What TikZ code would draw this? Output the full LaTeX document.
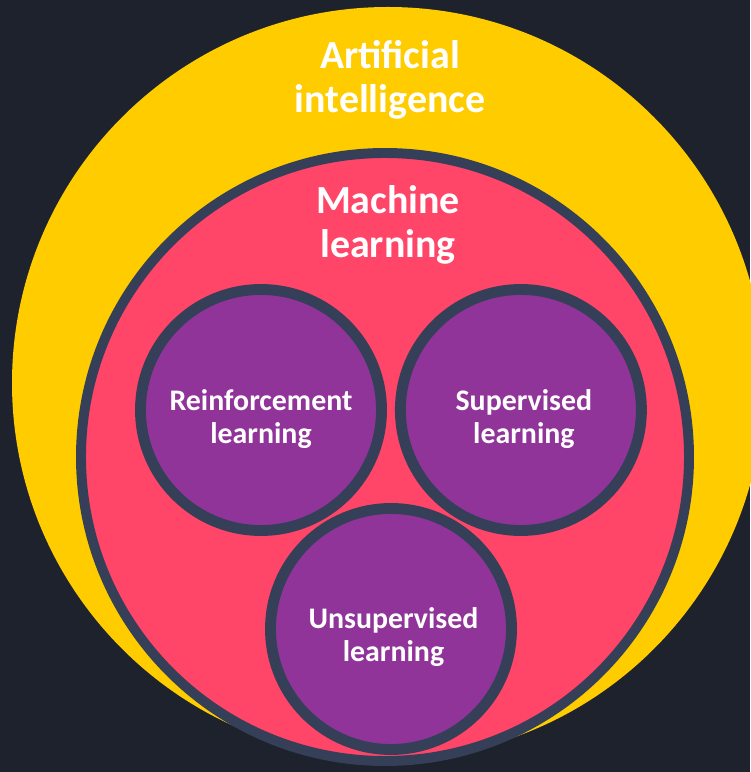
\documentclass[tikz,border=0pt]{standalone}
\usepackage{fontspec}
\setmainfont{Carlito}
\usetikzlibrary{positioning}
\definecolor{bg}{RGB}{30,34,45}
\definecolor{aiyellow}{RGB}{255,204,0}
\definecolor{mlred}{RGB}{255,69,104}
\definecolor{subpurple}{RGB}{145,52,154}
\definecolor{rim}{RGB}{53,63,88}
\begin{document}
\begin{tikzpicture}[
		area/.style={circle, inner sep=0pt, minimum size=#1},
		sub/.style={area=4.82cm, fill=subpurple, draw=rim, line width=6.2pt},
		subtext/.style={text=white, align=center, font=\bfseries\fontsize{17}{18.3}\selectfont},
		big/.style={text=white, align=center, font=\bfseries\fontsize{22.7}{25}\selectfont}]
			\fill[bg] (0,0) rectangle (15,15.44);
			\useasboundingbox (0,0) rectangle (15,15.44);
			\node (ai) [area=15.04cm, fill=aiyellow] at (7.76,7.78) {};
			\node (ml) [area=12.16cm, fill=mlred, draw=rim, line width=5.67pt] at (7.70,6.30) {};
			\node (rl) [sub] at (5.22,7.24) {};
			\node (sl) [sub, right=0.16cm of rl] {};
			\node (ul) [sub] at (7.82,2.86) {};
			\node (ait) [big, below=1.46cm of ai.north, anchor=center, xshift=0.04cm] {Artificial\\intelligence};
			\node (mlt) [big, below=1.54cm of ml.north, anchor=center, xshift=0.06cm] {Machine\\learning};
			\node (rlt) [subtext] at ([yshift=-0.18cm]rl.center) {Reinforcement\\learning};
			\node (slt) [subtext] at ([xshift=0.06cm, yshift=-0.18cm]sl.center) {Supervised\\learning};
			\node (ult) [subtext] at ([xshift=0.05cm, yshift=-0.16cm]ul.center) {Unsupervised\\learning};
		\end{tikzpicture}
\end{document}
